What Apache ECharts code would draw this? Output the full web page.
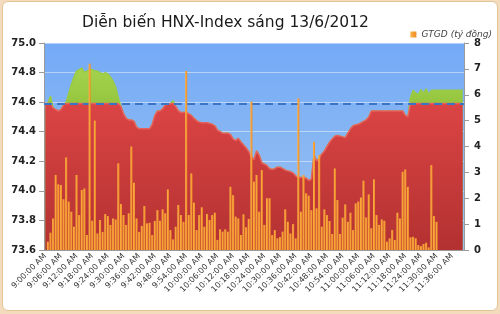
<!DOCTYPE html>
<html>
<head>
<meta charset="utf-8">
<script src="https://cdn.jsdelivr.net/npm/echarts@6/dist/echarts.min.js"></script>
<style>
html,body{margin:0;padding:0;background:#f3dcbd;}
#frame{position:absolute;left:2px;top:1px;width:494px;height:308px;background:#fff;border:1px solid #e6c595;border-radius:6px;}
#chart{position:absolute;left:0;top:0;width:500px;height:314px;}
</style>
</head>
<body>
<div id="frame"></div>
<div id="chart"></div>
<script>
const times = [
'9:00:00 AM','9:01:00 AM','9:02:00 AM','9:03:00 AM','9:04:00 AM','9:05:00 AM','9:06:00 AM','9:07:00 AM','9:08:00 AM','9:09:00 AM',
'9:10:00 AM','9:11:00 AM','9:12:00 AM','9:13:00 AM','9:14:00 AM','9:15:00 AM','9:16:00 AM','9:17:00 AM','9:18:00 AM','9:19:00 AM',
'9:20:00 AM','9:21:00 AM','9:22:00 AM','9:23:00 AM','9:24:00 AM','9:25:00 AM','9:26:00 AM','9:27:00 AM','9:28:00 AM','9:29:00 AM',
'9:30:00 AM','9:31:00 AM','9:32:00 AM','9:33:00 AM','9:34:00 AM','9:35:00 AM','9:36:00 AM','9:37:00 AM','9:38:00 AM','9:39:00 AM',
'9:40:00 AM','9:41:00 AM','9:42:00 AM','9:43:00 AM','9:44:00 AM','9:45:00 AM','9:46:00 AM','9:47:00 AM','9:48:00 AM','9:49:00 AM',
'9:50:00 AM','9:51:00 AM','9:52:00 AM','9:53:00 AM','9:54:00 AM','9:55:00 AM','9:56:00 AM','9:57:00 AM','9:58:00 AM','9:59:00 AM',
'10:00:00 AM','10:01:00 AM','10:02:00 AM','10:03:00 AM','10:04:00 AM','10:05:00 AM','10:06:00 AM','10:07:00 AM','10:08:00 AM','10:09:00 AM',
'10:10:00 AM','10:11:00 AM','10:12:00 AM','10:13:00 AM','10:14:00 AM','10:15:00 AM','10:16:00 AM','10:17:00 AM','10:18:00 AM','10:19:00 AM',
'10:20:00 AM','10:21:00 AM','10:22:00 AM','10:23:00 AM','10:24:00 AM','10:25:00 AM','10:26:00 AM','10:27:00 AM','10:28:00 AM','10:29:00 AM',
'10:30:00 AM','10:31:00 AM','10:32:00 AM','10:33:00 AM','10:34:00 AM','10:35:00 AM','10:36:00 AM','10:37:00 AM','10:38:00 AM','10:39:00 AM',
'10:40:00 AM','10:41:00 AM','10:42:00 AM','10:43:00 AM','10:44:00 AM','10:45:00 AM','10:46:00 AM','10:47:00 AM','10:48:00 AM','10:49:00 AM',
'10:50:00 AM','10:51:00 AM','10:52:00 AM','10:53:00 AM','10:54:00 AM','10:55:00 AM','10:56:00 AM','10:57:00 AM','10:58:00 AM','10:59:00 AM',
'11:00:00 AM','11:01:00 AM','11:02:00 AM','11:03:00 AM','11:04:00 AM','11:05:00 AM','11:06:00 AM','11:07:00 AM','11:08:00 AM','11:09:00 AM',
'11:10:00 AM','11:11:00 AM','11:12:00 AM','11:13:00 AM','11:14:00 AM','11:15:00 AM','11:16:00 AM','11:17:00 AM','11:18:00 AM','11:19:00 AM',
'11:20:00 AM','11:21:00 AM','11:22:00 AM','11:23:00 AM','11:24:00 AM','11:25:00 AM','11:26:00 AM','11:27:00 AM','11:28:00 AM','11:29:00 AM',
'11:30:00 AM','11:31:00 AM','11:32:00 AM','11:33:00 AM','11:34:00 AM','11:35:00 AM','11:36:00 AM','11:37:00 AM','11:38:00 AM','11:39:00 AM',
'11:40:00 AM'
];

const hnxIndex = [
74.59,74.59,74.64,74.56,74.55,74.54,74.55,74.58,74.60,74.66,
74.72,74.77,74.81,74.82,74.83,74.80,74.81,74.82,74.82,74.81,
74.81,74.80,74.79,74.80,74.79,74.77,74.74,74.70,74.63,74.57,
74.52,74.49,74.48,74.48,74.47,74.43,74.42,74.42,74.42,74.42,
74.42,74.45,74.51,74.54,74.54,74.555,74.58,74.585,74.59,74.61,
74.57,74.54,74.53,74.53,74.53,74.52,74.51,74.49,74.475,74.465,
74.46,74.46,74.46,74.455,74.45,74.44,74.41,74.40,74.39,74.39,
74.39,74.38,74.35,74.34,74.355,74.33,74.31,74.29,74.265,74.23,
74.21,74.27,74.24,74.19,74.18,74.17,74.15,74.145,74.15,74.16,
74.16,74.15,74.14,74.135,74.13,74.12,74.10,74.09,74.09,74.09,
74.085,74.07,74.08,74.24,74.20,74.22,74.25,74.27,74.30,74.33,
74.35,74.37,74.375,74.37,74.365,74.36,74.39,74.42,74.44,74.445,
74.45,74.46,74.47,74.48,74.50,74.54,74.54,74.54,74.54,74.54,
74.54,74.54,74.54,74.54,74.54,74.54,74.54,74.54,74.51,74.50,
74.63,74.68,74.66,74.65,74.685,74.66,74.69,74.65,74.68,74.68,
74.68,74.68,74.68,74.68,74.68,74.68,74.68,74.68,74.68,74.68,
74.68
];

const gtgd = [
0,0.32,0.67,1.22,2.9,2.54,2.51,1.96,3.58,1.87,
1.48,0.9,2.9,1.35,2.32,2.38,0.58,7.2,1.13,5.0,
0.64,1.16,0.7,1.39,1.31,0.97,1.22,1.18,3.35,1.78,
1.35,0.97,1.42,4.0,2.6,1.22,0.7,0.93,1.7,1.03,
1.05,0.58,1.12,1.54,1.13,1.57,1.42,2.34,0.77,0.41,
0.9,1.74,1.35,1.09,6.92,1.35,2.96,1.83,0.77,1.35,
1.65,0.9,1.39,1.16,1.35,1.44,0.39,0.8,0.71,0.8,
0.71,2.44,2.12,1.29,1.22,0.58,1.38,0.88,1.2,5.73,
2.64,2.9,1.48,3.09,0.97,2.0,2.0,0.58,0.77,0.45,
0.5,0.71,1.57,1.09,0.64,1.0,0.45,5.86,1.48,2.9,
2.19,2.1,1.54,4.18,1.61,3.67,0.9,1.57,1.35,1.12,
0.62,3.15,1.93,0.62,1.25,1.76,1.09,1.44,0.77,1.8,
1.87,2.03,2.68,1.26,2.15,0.84,2.73,1.35,0.97,1.18,
1.13,0.32,0.45,0.77,0.39,1.44,1.22,3.02,3.11,2.44,
0.49,0.51,0.45,0.19,0.15,0.23,0.28,0.1,3.28,1.31,
1.09,0,0,0,0,0,0,0,0,0,
0
];

const refLevel = 74.59;
const titleText = 'Diễn biến HNX-Index sáng 13/6/2012';
const barName = 'GTGD (tỷ đồng)';

const belowRef = hnxIndex.map(v => Math.min(v, refLevel));

const chart = echarts.init(document.getElementById('chart'), null, {renderer: 'canvas'});
chart.setOption({
  animation: false,
  backgroundColor: 'transparent',
  title: {
    text: titleText,
    left: 77, top: 10,
    textStyle: {fontFamily: 'DejaVu Sans', fontSize: 15.5, fontWeight: 'normal', color: '#1a1a1a'}
  },
  legend: {
    data: [barName],
    right: 3, top: 25,
    itemWidth: 6, itemHeight: 6, itemGap: 4,
    icon: 'rect',
    textStyle: {fontFamily: 'DejaVu Sans', fontSize: 9, fontStyle: 'italic', color: '#444'}
  },
  grid: {
    left: 44, right: 36, top: 43, bottom: 64,
    show: true, borderWidth: 0,
    backgroundColor: {type: 'linear', x: 0, y: 0, x2: 0, y2: 1,
      colorStops: [{offset: 0, color: '#74aaf6'}, {offset: 1, color: '#9cc3f0'}]}
  },
  xAxis: {
    type: 'category',
    data: times,
    boundaryGap: true,
    axisLine: {lineStyle: {color: '#9a9a9a'}},
    axisTick: {interval: 0, length: 3, lineStyle: {color: '#a0a0a0'}},
    axisLabel: {interval: 5, rotate: 45, fontSize: 8, fontFamily: 'DejaVu Sans', color: '#333', margin: 5}
  },
  yAxis: [
    {
      type: 'value', min: 73.6, max: 75.0, interval: 0.2,
      axisLine: {show: true, lineStyle: {color: '#9a9a9a'}},
      axisTick: {show: true, length: 5, lineStyle: {color: '#9a9a9a'}},
      axisLabel: {formatter: v => v.toFixed(1), fontFamily: 'DejaVu Sans', fontWeight: 'bold', fontSize: 10, color: '#222', margin: 8},
      splitLine: {show: true, lineStyle: {color: 'rgba(255,255,255,0.45)', width: 1}}
    },
    {
      type: 'value', min: 0, max: 8, interval: 1, position: 'right',
      axisLine: {show: true, lineStyle: {color: '#9a9a9a'}},
      axisTick: {show: true, length: 5, lineStyle: {color: '#9a9a9a'}},
      axisLabel: {fontFamily: 'DejaVu Sans', fontWeight: 'bold', fontSize: 10, color: '#222', margin: 10},
      splitLine: {show: false}
    }
  ],
  series: [
    {
      name: 'above', type: 'line', yAxisIndex: 0, data: hnxIndex, z: 2,
      symbol: 'none', silent: true,
      lineStyle: {color: '#9acb45', width: 1.5},
      areaStyle: {origin: 'start', opacity: 1, color: {type: 'linear', x: 0, y: 0, x2: 0, y2: 1,
        colorStops: [{offset: 0, color: '#a5d24e'}, {offset: 0.3, color: '#8dbf36'}, {offset: 1, color: '#8dbf36'}]}}
    },
    {
      name: 'below', type: 'line', yAxisIndex: 0, data: belowRef, z: 3,
      symbol: 'none', silent: true,
      lineStyle: {color: '#e66060', width: 1.5},
      areaStyle: {origin: 'start', opacity: 1, color: {type: 'linear', x: 0, y: 0, x2: 0, y2: 1,
        colorStops: [{offset: 0, color: '#db4444'}, {offset: 1, color: '#b33131'}]}},
      markLine: {
        silent: true, symbol: 'none', animation: false,
        label: {show: false},
        lineStyle: {type: [8, 5], color: '#3a74c4', width: 2},
        data: [{yAxis: refLevel}]
      }
    },
    {
      name: barName, type: 'bar', yAxisIndex: 1, data: gtgd, z: 6,
      barWidth: '78%',
      itemStyle: {color: {type: 'linear', x: 0, y: 0, x2: 1, y2: 0,
        colorStops: [{offset: 0, color: '#fbb14a'}, {offset: 1, color: '#f08c22'}]}}
    }
  ]
});
</script>
</body>
</html>
